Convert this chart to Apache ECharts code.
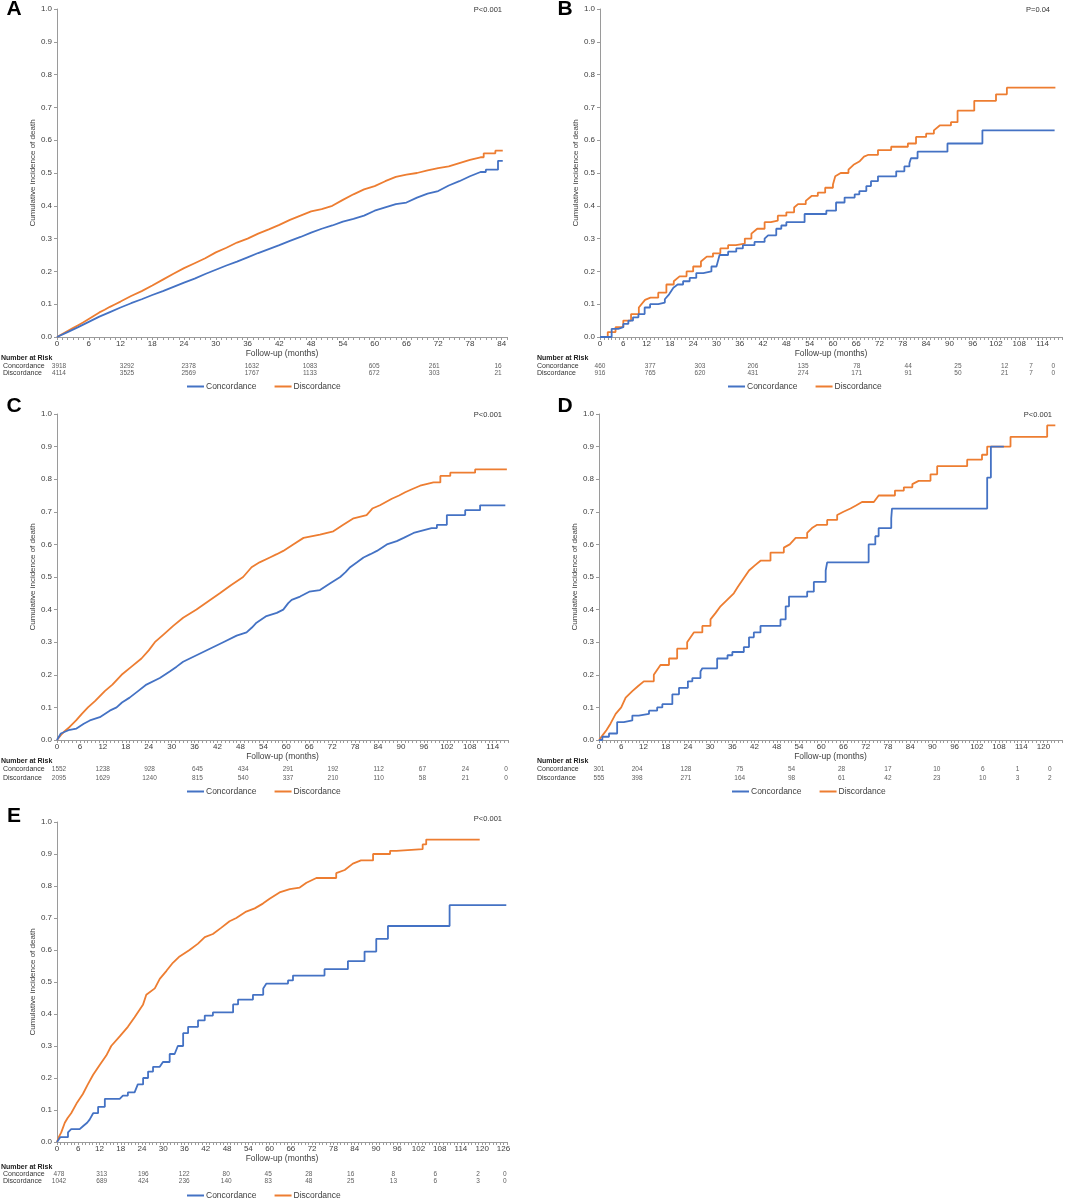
<!DOCTYPE html>
<html>
<head>
<meta charset="utf-8">
<script src="https://cdn.jsdelivr.net/npm/echarts@6/dist/echarts.min.js"></script>
<style>
html,body{margin:0;padding:0;background:#fff;}
#main{width:1065px;height:1200px;}
</style>
</head>
<body>
<div id="main"></div>
<script>
// cumulative incidence curves, [month, value]
var A_conc = [[0,0],[2,0.015],[4,0.03],[6,0.046],[8,0.062],[10,0.076],[12,0.09],[14,0.103],[16,0.115],[18,0.128],[20,0.14],[22,0.153],[24,0.166],[26,0.178],[28,0.192],[30,0.205],[32,0.218],[34,0.23],[36,0.243],[38,0.256],[40,0.268],[42,0.28],[44,0.293],[46,0.305],[48,0.318],[50,0.33],[52,0.34],[54,0.352],[56,0.36],[58,0.37],[60,0.385],[62,0.395],[64,0.405],[66,0.41],[68,0.425],[70,0.437],[72,0.445],[74,0.462],[76,0.475],[78,0.49],[80,0.503],[81,0.51],[83.3,0.537],[84.2,0.537]];
var A_disc = [[0,0],[1,0.009],[2,0.018],[3,0.027],[4,0.036],[5,0.045],[6,0.055],[7,0.065],[8,0.075],[9,0.083],[10,0.092],[11,0.1],[12,0.108],[14,0.125],[16,0.14],[18,0.157],[20,0.175],[22,0.193],[24,0.21],[26,0.225],[28,0.24],[30,0.258],[32,0.272],[34,0.288],[36,0.3],[38,0.315],[40,0.328],[42,0.342],[44,0.357],[46,0.37],[48,0.383],[50,0.39],[52,0.4],[54,0.418],[56,0.435],[58,0.45],[60,0.46],[62,0.475],[64,0.488],[66,0.495],[68,0.5],[70,0.508],[72,0.515],[74,0.52],[76,0.53],[78,0.54],[80,0.548],[80.6,0.56],[82.8,0.568],[84.2,0.568]];

var B_conc = [[0,0],[3,0.025],[4.7,0.03],[6,0.04],[7.3,0.05],[8.5,0.06],[9.9,0.07],[11.5,0.09],[12.9,0.1],[15,0.105],[16.7,0.115],[17.8,0.13],[18.9,0.15],[20,0.16],[21.4,0.17],[23.1,0.18],[24.8,0.195],[26.6,0.2],[28.7,0.215],[30,0.22],[30.8,0.25],[33,0.26],[35.1,0.27],[36.8,0.28],[39.8,0.29],[42.4,0.3],[43.3,0.31],[45.4,0.33],[46.7,0.34],[48,0.35],[52.7,0.375],[58.3,0.385],[60.8,0.41],[63,0.425],[65.6,0.435],[66.8,0.445],[68.6,0.46],[69.8,0.475],[71.6,0.49],[76.3,0.505],[78.4,0.52],[79.7,0.53],[80.1,0.545],[81.8,0.565],[89.5,0.59],[98.5,0.63],[117.1,0.63]];
var B_disc = [[0,0],[2,0.015],[4,0.03],[6,0.05],[8,0.07],[10,0.09],[11.6,0.113],[13,0.12],[15,0.135],[17.1,0.16],[19,0.17],[20.5,0.185],[22.3,0.2],[24,0.215],[26,0.23],[27.5,0.245],[29.1,0.255],[31,0.27],[33,0.28],[35,0.285],[37.3,0.3],[39,0.315],[40.5,0.33],[42.4,0.35],[44,0.355],[45.8,0.37],[48,0.38],[50,0.395],[51,0.405],[53,0.415],[54.5,0.43],[56.1,0.44],[58,0.455],[60,0.465],[60.6,0.49],[62,0.5],[64,0.51],[65.3,0.525],[66.8,0.535],[68,0.55],[69,0.555],[71.6,0.57],[75,0.58],[79.3,0.59],[81.4,0.61],[84,0.62],[86,0.63],[87.5,0.645],[90.4,0.655],[92.1,0.69],[96.4,0.72],[102,0.74],[104.8,0.76],[117.3,0.76]];

var C_conc = [[0,0],[1,0.02],[3,0.03],[5.1,0.035],[7,0.05],[8.6,0.06],[11.2,0.07],[13.8,0.09],[15.6,0.1],[17,0.115],[19,0.13],[21.2,0.15],[23.4,0.17],[26.9,0.19],[29.5,0.21],[31.3,0.225],[33,0.24],[36.5,0.26],[40,0.28],[43.5,0.3],[47,0.32],[49.6,0.33],[51,0.345],[52.2,0.36],[54.8,0.38],[57.5,0.39],[59.2,0.4],[60.5,0.42],[61.4,0.43],[63.6,0.44],[66,0.455],[68.8,0.46],[71.4,0.48],[74.1,0.5],[75.5,0.515],[76.7,0.53],[78.5,0.545],[80.2,0.56],[82,0.57],[83.7,0.58],[86.3,0.6],[88.9,0.61],[90.7,0.62],[93.3,0.635],[98,0.65],[99.4,0.66],[102,0.69],[106.8,0.705],[110.7,0.72],[117.3,0.72]];
var C_disc = [[0,0],[1,0.015],[2,0.027],[3.3,0.04],[5,0.06],[6.5,0.08],[8.1,0.1],[10,0.12],[12.5,0.15],[14.5,0.17],[16.9,0.2],[19.5,0.225],[22.1,0.25],[24,0.275],[25.6,0.3],[28,0.325],[30.4,0.35],[33,0.375],[36.5,0.4],[39.5,0.425],[42.6,0.45],[45.5,0.475],[48.7,0.5],[50.9,0.53],[53,0.545],[55.7,0.56],[57.5,0.57],[59.2,0.58],[61.8,0.6],[64.5,0.62],[68.8,0.63],[72.3,0.64],[74.9,0.66],[77.6,0.68],[81,0.69],[82.5,0.71],[84.5,0.72],[87.6,0.74],[89.5,0.75],[91.1,0.76],[93,0.77],[95,0.78],[98.5,0.79],[100.3,0.81],[102.9,0.82],[109.4,0.83],[117.7,0.83]];

var D_conc = [[0,0],[0.9,0.01],[2.7,0.02],[4.9,0.055],[6.7,0.06],[9,0.075],[10.7,0.08],[13.5,0.09],[15.7,0.1],[17.1,0.11],[19.8,0.14],[21.6,0.16],[24,0.18],[25.2,0.19],[27.4,0.21],[27.9,0.22],[31.9,0.25],[34.7,0.26],[36,0.27],[39.1,0.285],[40.5,0.315],[41.8,0.33],[43.6,0.35],[49,0.37],[50.4,0.41],[51.3,0.44],[56.2,0.455],[58,0.485],[61.2,0.52],[61.6,0.545],[72.8,0.6],[74.6,0.625],[75.5,0.65],[78.9,0.68],[79.1,0.71],[104.8,0.805],[105.8,0.9],[109.3,0.9]];
var D_disc = [[0,0],[1,0.015],[2,0.03],[3.1,0.05],[4.5,0.08],[6,0.1],[7.2,0.13],[9,0.15],[10.5,0.165],[12.1,0.18],[14.8,0.2],[16.6,0.23],[18.9,0.25],[21.1,0.28],[23.8,0.3],[25.6,0.33],[27.9,0.35],[30.1,0.37],[31.5,0.39],[32.8,0.41],[34.6,0.43],[36.4,0.45],[37.5,0.47],[38.7,0.49],[40.5,0.52],[42,0.535],[43.6,0.55],[46.3,0.575],[49.9,0.59],[51.5,0.6],[53.1,0.62],[56.2,0.635],[57.5,0.65],[58.9,0.66],[61.6,0.675],[64.3,0.69],[66,0.7],[67.9,0.71],[69.5,0.72],[71,0.73],[74.2,0.735],[75.5,0.75],[79.9,0.765],[82.3,0.775],[84.6,0.785],[86.3,0.795],[89.5,0.815],[91.3,0.84],[99.4,0.86],[103.4,0.875],[104.8,0.9],[111.1,0.93],[121,0.965],[123.2,0.965]];

var E_conc = [[0,0],[0.9,0.015],[3.1,0.03],[4,0.04],[6.4,0.045],[7.4,0.05],[8.5,0.06],[9.2,0.07],[10.2,0.09],[11.6,0.11],[13.5,0.135],[17.7,0.14],[18.6,0.145],[20,0.155],[21.9,0.16],[22.8,0.18],[24.3,0.2],[25.7,0.22],[27.1,0.235],[29,0.24],[29.9,0.25],[31.8,0.275],[33.2,0.28],[34.1,0.3],[35.6,0.34],[37,0.36],[39.8,0.38],[41.7,0.395],[44,0.405],[49.7,0.43],[51.1,0.445],[55.3,0.46],[58.2,0.48],[59.1,0.495],[65.2,0.505],[66.6,0.52],[75.5,0.54],[82.1,0.565],[86.8,0.595],[90.1,0.635],[93.4,0.675],[110.8,0.74],[126.8,0.74]];
var E_disc = [[0,0],[0.5,0.015],[1.2,0.03],[2.2,0.06],[3,0.075],[4,0.09],[5.5,0.12],[7.3,0.15],[8.7,0.18],[10.2,0.21],[12,0.24],[13.9,0.27],[15.3,0.3],[17.7,0.33],[20,0.36],[21.9,0.39],[24.3,0.43],[25.2,0.46],[27.6,0.48],[29,0.51],[30.9,0.535],[32.7,0.56],[34.6,0.58],[37.4,0.6],[39.8,0.62],[41.7,0.64],[44,0.65],[46.4,0.67],[48.7,0.69],[50.6,0.7],[53.4,0.72],[55.8,0.73],[58.1,0.745],[60,0.76],[62.8,0.78],[65.7,0.79],[68.5,0.795],[70.4,0.81],[73.2,0.825],[78.8,0.84],[81.2,0.85],[83.5,0.87],[85.8,0.88],[89.2,0.9],[94,0.91],[95.8,0.915],[103.2,0.93],[104.2,0.945],[119.3,0.945]];

// number at risk: column month, concordance, discordance
var A_riskT = [0,12.9,24.6,36.6,47.6,59.8,71.2,83.3];
var A_riskC = [3918,3292,2378,1632,1083,605,261,16];
var A_riskD = [4114,3525,2569,1767,1133,672,303,21];
var B_riskT = [0,12.9,25.7,39.3,52.2,66,79.2,92,104,110.8,116.5];
var B_riskC = [460,377,303,206,135,78,44,25,12,7,0];
var B_riskD = [916,765,620,431,274,171,91,50,21,7,0];
var C_riskT = [0,11.5,23.8,36.4,48.4,60.2,72,84,95.5,106.8,117.5];
var C_riskC = [1552,1238,928,645,434,291,192,112,67,24,0];
var C_riskD = [2095,1629,1240,815,540,337,210,110,58,21,0];
var D_riskT = [0,10.3,23.5,38,52,65.5,78,91.2,103.6,113,121.7];
var D_riskC = [301,204,128,75,54,28,17,10,6,1,0];
var D_riskD = [555,398,271,164,98,61,42,23,10,3,2];
var E_riskT = [0,12.1,23.9,35.5,47.4,59.3,70.8,82.7,94.8,106.7,118.8,126.4];
var E_riskC = [478,313,196,122,80,45,28,16,8,6,2,0];
var E_riskD = [1042,689,424,236,140,83,48,25,13,6,3,0];

var FONT = '"Liberation Sans", Arial, sans-serif';
var BLUE = '#4472C4';
var ORANGE = '#ED7D31';
var TXT = '#404040';
var AXIS = '#9a9a9a';

// gc/gd: longest gap (months) drawn straight, uc/ud: month after which everything is a flat step
var panels = [
    {letter:'A', p:'P<0.001', conc:A_conc, disc:A_disc, rt:A_riskT, rc:A_riskC, rd:A_riskD, max:85,
     gc:2.1, gd:2.1, uc:80, ud:80,
     left:57, top:9, width:450, height:328, riskTop:362, riskH:15, nar:358, legX:187, legY:382, lx:14, ly:9, px:502, py:10},
    {letter:'B', p:'P=0.04', conc:B_conc, disc:B_disc, rt:B_riskT, rc:B_riskC, rd:B_riskD, max:119,
     gc:1.2, gd:1.6, uc:999, ud:999,
     left:600, top:9, width:463, height:328, riskTop:362, riskH:15, nar:358, legX:728, legY:382, lx:565, ly:9, px:1050, py:10},
    {letter:'C', p:'P<0.001', conc:C_conc, disc:C_disc, rt:C_riskT, rc:C_riskC, rd:C_riskD, max:118,
     gc:4.8, gd:4.8, uc:96, ud:96,
     left:57, top:414, width:451, height:326, riskTop:765, riskH:17, nar:761, legX:187, legY:787, lx:14, ly:406, px:502, py:415},
    {letter:'D', p:'P<0.001', conc:D_conc, disc:D_disc, rt:D_riskT, rc:D_riskC, rd:D_riskD, max:125,
     gc:0.8, gd:2.0, uc:999, ud:88,
     left:599, top:414, width:463, height:326, riskTop:765, riskH:17, nar:761, legX:732, legY:787, lx:565, ly:406, px:1052, py:415},
    {letter:'E', p:'P<0.001', conc:E_conc, disc:E_disc, rt:E_riskT, rc:E_riskC, rd:E_riskD, max:127,
     gc:1.2, gd:3.0, uc:999, ud:88,
     left:57, top:822, width:450, height:320, riskTop:1171, riskH:14, nar:1167, legX:187, legY:1191, lx:14, ly:816, px:502, py:819}
];

// long gaps (or anything late) keep the flat step, short early ones are drawn straight
function stepPath(data, gap, until) {
    var out = [data[0]];
    for (var k = 1; k < data.length; k++) {
        var prev = data[k - 1];
        if (data[k][0] - prev[0] > gap || prev[0] >= until) {
            out.push([data[k][0], prev[1]]);
        }
        out.push(data[k]);
    }
    return out;
}

function riskData(t, n, row) {
    var out = [];
    for (var k = 0; k < t.length; k++) {
        out.push([t[k], row, n[k]]);
    }
    return out;
}

function addPanel(i, cfg, opt) {
    var g = i * 2;
    var rowX = cfg.left < 300 ? 1 : 537;

    opt.grid.push({left:cfg.left, top:cfg.top, width:cfg.width, height:cfg.height});
    opt.grid.push({left:cfg.left, top:cfg.riskTop, width:cfg.width, height:cfg.riskH});

    opt.xAxis.push({
        gridIndex:g, type:'value', min:0, max:cfg.max, interval:6,
        name:'Follow-up (months)', nameLocation:'middle', nameGap:11,
        nameTextStyle:{fontFamily:FONT, fontSize:8.5, color:TXT},
        axisLine:{lineStyle:{color:AXIS, width:1}},
        axisTick:{show:true, length:3, lineStyle:{color:AXIS}},
        minorTick:{show:true, splitNumber:6, length:3, lineStyle:{color:AXIS}},
        splitLine:{show:false},
        axisLabel:{fontFamily:FONT, fontSize:8, color:TXT, margin:3,
            formatter:function(v){ return v % 6 === 0 ? String(v) : ''; }}
    });
    opt.xAxis.push({gridIndex:g + 1, type:'value', min:0, max:cfg.max, show:false});

    opt.yAxis.push({
        gridIndex:g, type:'value', min:0, max:1, interval:0.1,
        name:'Cumulative incidence of death', nameLocation:'middle', nameGap:19,
        nameTextStyle:{fontFamily:FONT, fontSize:8, color:TXT},
        axisLine:{show:true, lineStyle:{color:AXIS, width:1}},
        axisTick:{show:true, length:3, lineStyle:{color:AXIS}},
        splitLine:{show:false},
        axisLabel:{fontFamily:FONT, fontSize:8, color:TXT, margin:5,
            formatter:function(v){ return v.toFixed(1); }}
    });
    opt.yAxis.push({
        gridIndex:g + 1, type:'category', data:['Concordance','Discordance'], inverse:true,
        axisLine:{show:false}, axisTick:{show:false}, splitLine:{show:false},
        axisLabel:{interval:0, fontFamily:FONT, fontSize:7, color:'#333', align:'left', margin:cfg.left - rowX}
    });

    opt.series.push({
        name:'Concordance', type:'line', xAxisIndex:g, yAxisIndex:g,
        data:stepPath(cfg.conc, cfg.gc, cfg.uc), symbol:'none', showSymbol:false, color:BLUE,
        lineStyle:{color:BLUE, width:1.8}, z:3
    });
    opt.series.push({
        name:'Discordance', type:'line', xAxisIndex:g, yAxisIndex:g,
        data:stepPath(cfg.disc, cfg.gd, cfg.ud), symbol:'none', showSymbol:false, color:ORANGE,
        lineStyle:{color:ORANGE, width:1.8}, z:2
    });

    var lbl = {show:true, position:'inside', fontFamily:FONT, fontSize:6.5, color:'#333',
        formatter:function(p){ return p.value[2]; }};
    opt.series.push({
        name:'risk' + cfg.letter + 'c', type:'scatter', xAxisIndex:g + 1, yAxisIndex:g + 1,
        data:riskData(cfg.rt, cfg.rc, 'Concordance'), symbolSize:1,
        itemStyle:{color:'rgba(0,0,0,0)'}, label:lbl, silent:true
    });
    opt.series.push({
        name:'risk' + cfg.letter + 'd', type:'scatter', xAxisIndex:g + 1, yAxisIndex:g + 1,
        data:riskData(cfg.rt, cfg.rd, 'Discordance'), symbolSize:1,
        itemStyle:{color:'rgba(0,0,0,0)'}, label:lbl, silent:true
    });

    opt.legend.push({
        left:cfg.legX, top:cfg.legY, padding:0, data:['Concordance','Discordance'],
        icon:'rect', itemWidth:17, itemHeight:2, itemGap:18, selectedMode:false,
        textStyle:{fontFamily:FONT, fontSize:8.5, color:TXT, padding:[0,0,0,-3]}
    });

    // panel letter, p value and the "Number at Risk" heading
    opt.graphic.push({type:'text', x:cfg.lx, y:cfg.ly,
        style:{text:cfg.letter, font:'bold 21px ' + FONT, fill:'#000', textAlign:'center', textVerticalAlign:'middle'}});
    opt.graphic.push({type:'text', x:cfg.px, y:cfg.py,
        style:{text:cfg.p, font:'7.5px ' + FONT, fill:'#333', textAlign:'right', textVerticalAlign:'middle'}});
    opt.graphic.push({type:'text', x:rowX, y:cfg.nar,
        style:{text:'Number at Risk', font:'bold 7px ' + FONT, fill:'#222', textAlign:'left', textVerticalAlign:'middle'}});
}

var option = {
    animation:false,
    backgroundColor:'#fff',
    grid:[], xAxis:[], yAxis:[], series:[], legend:[], graphic:[]
};
for (var i = 0; i < panels.length; i++) {
    addPanel(i, panels[i], option);
}

var myChart = echarts.init(document.getElementById('main'));
myChart.setOption(option);
</script>
</body>
</html>
